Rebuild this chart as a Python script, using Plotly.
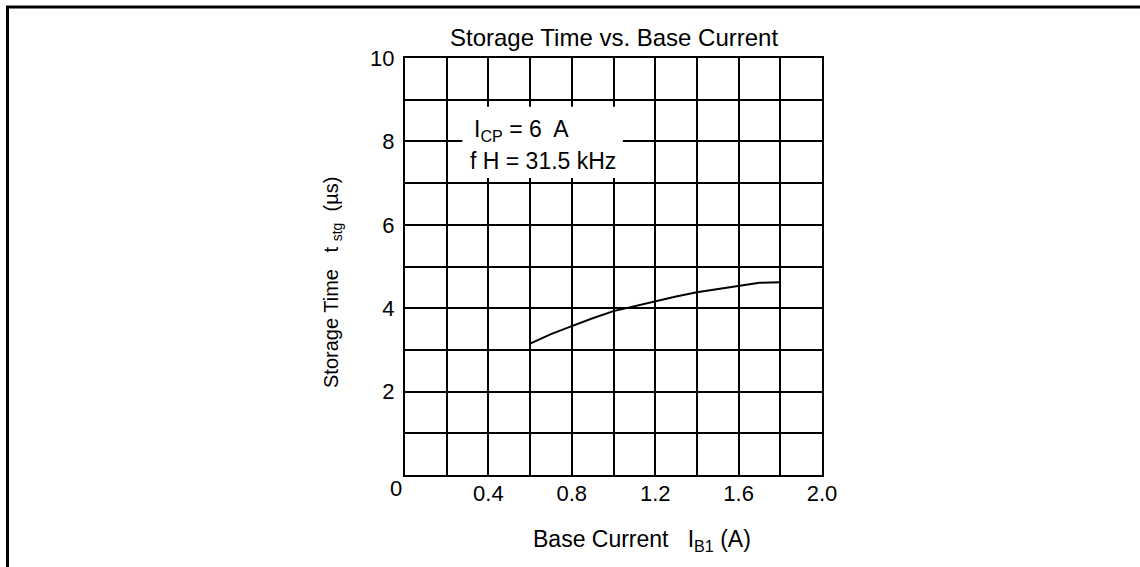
import plotly.graph_objects as go

# ---- data ----
base_current = [0.6, 0.7, 0.8, 0.9, 1.0, 1.1, 1.2, 1.3, 1.4, 1.5, 1.6, 1.65, 1.7, 1.8]
storage_time = [3.15, 3.38, 3.57, 3.76, 3.93, 4.05, 4.17, 4.28, 4.38, 4.46, 4.53, 4.58, 4.61, 4.62]

x_tickvals = [0.0, 0.2, 0.4, 0.6, 0.8, 1.0, 1.2, 1.4, 1.6, 1.8, 2.0]
x_ticktext = ["", "", "0.4", "", "0.8", "", "1.2", "", "1.6", "", "2.0"]
y_tickvals = [0, 1, 2, 3, 4, 5, 6, 7, 8, 9, 10]
y_ticktext = ["", "", "2", "", "4", "", "6", "", "8", "", "10"]

title_text = "Storage Time vs. Base Current"
x_title = "Base Current   I<sub>B1</sub> (A)"
y_title = "Storage Time   t <sub>stg</sub>  (\u00b5s)"
cond_line1 = "I<sub>CP</sub> = 6  A"
cond_line2 = "f H = 31.5 kHz"

# ---- layout constants ----
W, H = 1140, 567
L, R, T, B = 405, 822, 58, 475
FONT = "Liberation Sans, Arial, sans-serif"
FS = 23

def px_x(p):
    return (p - L) / (R - L)

def px_y(p):
    return (B - p) / (B - T)

fig = go.Figure()
fig.add_trace(go.Scatter(x=base_current, y=storage_time, mode="lines",
                         line=dict(color="black", width=2), showlegend=False,
                         hoverinfo="skip"))

axis_common = dict(showgrid=True, gridcolor="black", gridwidth=2,
                   showline=True, linecolor="black", linewidth=2, mirror=True,
                   zeroline=False, ticks="", tickfont=dict(family=FONT, size=FS - 1, color="black"),
                   fixedrange=True)

fig.update_xaxes(range=[0, 2.0], tickmode="array", tickvals=x_tickvals, ticktext=x_ticktext,
                 ticklabelstandoff=-2, **axis_common)
fig.update_yaxes(range=[0, 10], tickmode="array", tickvals=y_tickvals, ticktext=y_ticktext,
                 ticklabelstandoff=4, **axis_common)

shapes = [
    # white box behind condition text
    dict(type="rect", xref="x", yref="y", x0=0.275, x1=1.045, y0=7.12, y1=8.83,
         fillcolor="white", line=dict(width=0), layer="above"),
    # page frame: top and left edges
    dict(type="line", xref="paper", yref="paper", x0=px_x(6), x1=px_x(W), y0=px_y(7), y1=px_y(7),
         line=dict(color="black", width=3)),
    dict(type="line", xref="paper", yref="paper", x0=px_x(7.5), x1=px_x(7.5), y0=px_y(6), y1=px_y(H),
         line=dict(color="black", width=3)),
]

annotations = [
    dict(text=title_text, xref="paper", yref="paper", x=0.5, y=px_y(37),
         xanchor="center", yanchor="middle", showarrow=False,
         font=dict(family=FONT, size=FS + 1, color="black")),
    dict(text=x_title, xref="paper", yref="paper", x=px_x(642), y=px_y(540),
         xanchor="center", yanchor="middle", showarrow=False,
         font=dict(family=FONT, size=FS, color="black")),
    dict(text=y_title, xref="paper", yref="paper", x=px_x(332), y=px_y(283),
         xanchor="center", yanchor="middle", showarrow=False, textangle=-90,
         font=dict(family=FONT, size=FS - 3, color="black")),
    dict(text="0", xref="paper", yref="paper", x=px_x(396), y=px_y(488),
         xanchor="center", yanchor="middle", showarrow=False,
         font=dict(family=FONT, size=FS - 1, color="black")),
    dict(text=cond_line1, xref="x", yref="y", x=0.32, y=8.27,
         xanchor="left", yanchor="middle", showarrow=False,
         font=dict(family=FONT, size=FS, color="black")),
    dict(text=cond_line2, xref="x", yref="y", x=0.30, y=7.53,
         xanchor="left", yanchor="middle", showarrow=False,
         font=dict(family=FONT, size=FS, color="black")),
]

fig.update_layout(width=W, height=H, margin=dict(l=L, r=W - R, t=T, b=H - B),
                  paper_bgcolor="white", plot_bgcolor="white",
                  shapes=shapes, annotations=annotations, showlegend=False)

fig.write_html("out.html", config={"displayModeBar": False})
